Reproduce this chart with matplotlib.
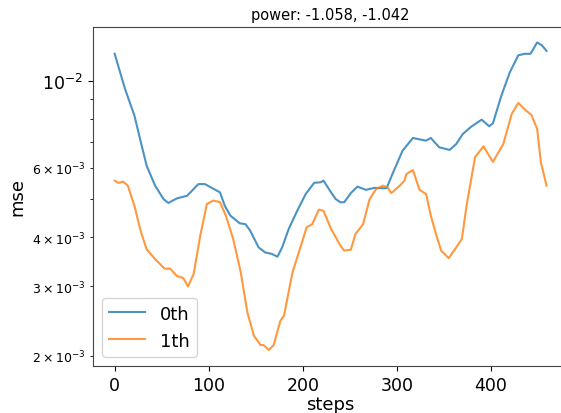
import matplotlib
matplotlib.use("Agg")
import matplotlib.pyplot as plt

# mse per step
steps_0 = [0, 11, 21, 27, 34, 43, 52, 57, 66, 77, 89, 96, 107, 112, 117, 123, 133, 139,
           144, 153, 160, 167, 173, 178, 185, 194, 203, 212, 219, 222, 230, 235, 240, 244,
           251, 258, 267, 276, 285, 289, 296, 306, 317, 331, 336, 345, 356, 363, 370, 379,
           390, 398, 402, 411, 420, 429, 436, 442, 449, 454, 459]
mse_0 = [1.17e-2, 9.53e-3, 8.15e-3, 7.11e-3, 6.08e-3, 5.41e-3, 5.00e-3, 4.89e-3, 5.02e-3,
         5.10e-3, 5.46e-3, 5.46e-3, 5.28e-3, 5.20e-3, 4.81e-3, 4.54e-3, 4.34e-3, 4.32e-3,
         4.16e-3, 3.77e-3, 3.66e-3, 3.63e-3, 3.57e-3, 3.77e-3, 4.20e-3, 4.67e-3, 5.15e-3,
         5.50e-3, 5.52e-3, 5.57e-3, 5.20e-3, 5.00e-3, 4.91e-3, 4.91e-3, 5.18e-3, 5.38e-3,
         5.28e-3, 5.34e-3, 5.33e-3, 5.33e-3, 5.85e-3, 6.64e-3, 7.15e-3, 7.04e-3, 7.15e-3,
         6.77e-3, 6.67e-3, 6.90e-3, 7.32e-3, 7.64e-3, 7.96e-3, 7.66e-3, 7.79e-3, 9.16e-3,
         1.05e-2, 1.16e-2, 1.17e-2, 1.17e-2, 1.25e-2, 1.23e-2, 1.19e-2]

steps_1 = [0, 4, 9, 14, 21, 28, 34, 43, 53, 59, 66, 73, 78, 84, 91, 98, 105, 112, 118,
           126, 134, 141, 148, 155, 158, 164, 169, 176, 180, 189, 198, 204, 210, 217, 222,
           230, 235, 240, 244, 251, 256, 264, 271, 278, 285, 290, 294, 303, 308, 310, 317,
           324, 331, 336, 342, 347, 355, 363, 369, 374, 383, 392, 402, 413, 422, 429, 436,
           443, 449, 453, 459]
mse_1 = [5.57e-3, 5.50e-3, 5.54e-3, 5.41e-3, 4.81e-3, 4.12e-3, 3.73e-3, 3.52e-3, 3.33e-3,
         3.33e-3, 3.19e-3, 3.15e-3, 3.00e-3, 3.23e-3, 4.04e-3, 4.86e-3, 4.96e-3, 4.91e-3,
         4.55e-3, 3.96e-3, 3.26e-3, 2.58e-3, 2.25e-3, 2.13e-3, 2.13e-3, 2.07e-3, 2.13e-3,
         2.45e-3, 2.53e-3, 3.26e-3, 3.81e-3, 4.24e-3, 4.32e-3, 4.70e-3, 4.67e-3, 4.20e-3,
         4.00e-3, 3.81e-3, 3.70e-3, 3.72e-3, 4.08e-3, 4.32e-3, 5.00e-3, 5.31e-3, 5.41e-3,
         5.36e-3, 5.18e-3, 5.41e-3, 5.57e-3, 5.79e-3, 5.93e-3, 5.28e-3, 5.15e-3, 4.54e-3,
         4.04e-3, 3.70e-3, 3.54e-3, 3.77e-3, 3.96e-3, 4.81e-3, 6.39e-3, 6.81e-3, 6.22e-3,
         6.90e-3, 8.23e-3, 8.78e-3, 8.44e-3, 8.18e-3, 7.54e-3, 6.20e-3, 5.41e-3]

labels = ["0th", "1th"]
title = "power: -1.058, -1.042"

fig = plt.figure(figsize=(5.61, 4.14), dpi=100)
# axes run past the right edge, like the cropped original
ax = fig.add_axes([0.1658, 0.1135, 0.847, 0.819])

ax.plot(steps_0, mse_0, label=labels[0], alpha=0.8)
ax.plot(steps_1, mse_1, label=labels[1], alpha=0.8)
ax.set_yscale("log")
ax.set_xlim(-23, 482)
ax.set_ylim(1.884e-3, 1.369e-2)

ax.set_title(title, fontsize=10.5)
ax.set_xlabel("steps", fontsize=13, labelpad=1)
ax.set_ylabel("mse", fontsize=13)
ax.tick_params(which="major", labelsize=12.5)
ax.tick_params(axis="y", which="minor", labelsize=9)
for s in ax.spines.values():
    s.set_color("#444444")
ax.legend(loc="lower left", fontsize=13)

fig.savefig("out.png", dpi=100)
